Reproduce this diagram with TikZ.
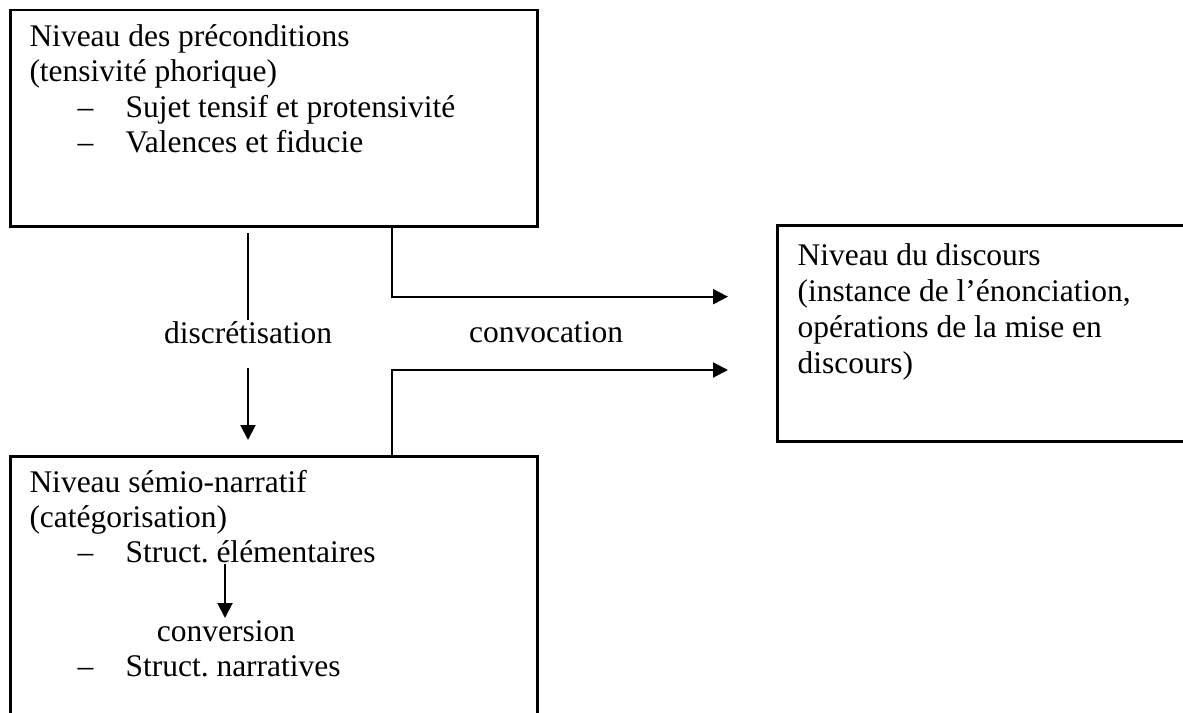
\documentclass[tikz,border=0pt]{standalone}
\usepackage{fontspec}
\setmainfont{Liberation Serif}
\frenchspacing
\usetikzlibrary{arrows.meta}
\begin{document}
\begin{tikzpicture}[x=0.4pt,y=-0.4pt,
  frame/.style={draw, line width=1pt, inner sep=0pt, anchor=north west},
  txt/.style={anchor=base west, inner sep=0pt, font=\fontsize{12.6}{14}\selectfont},
  ctxt/.style={anchor=base, inner sep=0pt, font=\fontsize{12.6}{14}\selectfont},
  link/.style={line width=0.8pt},
  arr/.style={link, -{Triangle[length=6pt,width=6pt]}}]
\useasboundingbox (0,0) rectangle (1183,712);

% the three levels
\node[frame, minimum width=210.8pt, minimum height=86.4pt] (pre) at (9,9) {};
\node[frame, minimum width=169.6pt, minimum height=86.4pt] (disc) at (776,224) {};
\node[frame, minimum width=210.8pt, minimum height=110pt] (sem) at (9,455) {};

% text of the upper box
\node[txt] (pre1) at (29,46.5) {Niveau des préconditions};
\node[txt] (pre2) at (29,82) {(tensivité phorique)};
\node[txt] (pre3d) at (77,117.5) {–};
\node[txt] (pre3) at (125,117.5) {Sujet tensif et protensivité};
\node[txt] (pre4d) at (77,153) {–};
\node[txt] (pre4) at (125,153) {Valences et fiducie};

% text of the discourse box
\node[txt] (dis1) at (797,265) {Niveau du discours};
\node[txt] (dis2) at (797,301) {(instance de l’énonciation,};
\node[txt] (dis3) at (797,337) {opérations de la mise en};
\node[txt] (dis4) at (797,373) {discours)};

% text of the lower box
\node[txt] (sem1) at (29,492) {Niveau sémio-narratif};
\node[txt] (sem2) at (29,527) {(catégorisation)};
\node[txt] (sem3d) at (77,562) {–};
\node[txt] (sem3) at (125,562) {Struct. élémentaires};
\node[ctxt] (conv) at (226,641) {conversion};
\node[txt] (sem4d) at (77,676) {–};
\node[txt] (sem4) at (125,676) {Struct. narratives};

% labels between the boxes
\node[ctxt] (lbldisc) at (248,343) {discrétisation};
\node[ctxt] (lblconv) at (546,342) {convocation};

% discrétisation: broken vertical arrow
\coordinate (d1) at (248,233);
\coordinate (d2) at (248,320);
\coordinate (d3) at (248,368);
\coordinate (d4) at (248,440);
\draw[link] (d1) -- (d2);
\draw[arr] (d3) -- (d4);

% convocation: two elbow arrows toward the discourse box
\path (pre.south west) ++(383,0) coordinate (preOut);
\path (sem.north west) ++(383,0) coordinate (semOut);
\coordinate (t1) at (728,296.7);
\coordinate (t2) at (728,370);
\draw[arr] (preOut) |- (t1);
\draw[arr] (semOut) |- (t2);

% conversion arrow inside the lower box
\coordinate (k1) at (225,564);
\coordinate (k2) at (225,618);
\draw[arr] (k1) -- (k2);
\end{tikzpicture}
\end{document}
